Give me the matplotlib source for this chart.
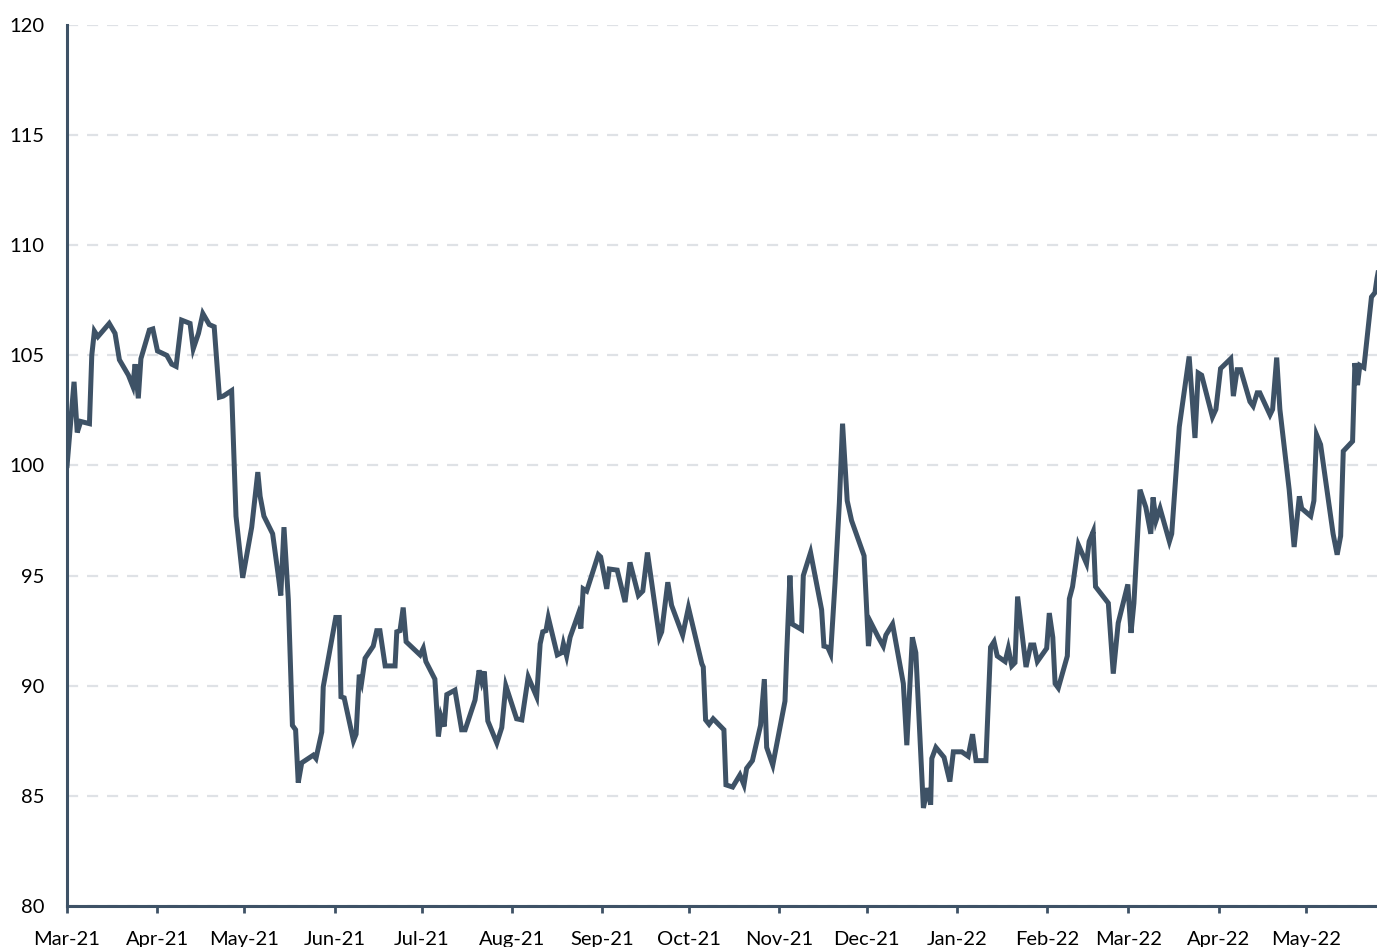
import pandas as pd
import matplotlib.pyplot as plt
import matplotlib.dates as mdates

# days after 2021-03-01 and index level
days = [0, 2.4, 3.5, 4.7, 7.7, 8.5, 9.4, 10.6, 14.5, 16.5, 18.0, 21.1, 22.6, 23.4, 24.5,
        25.4, 28.3, 29.5, 31.1, 34.3, 36.0, 37.5, 39.4, 42.3, 43.4, 45.2, 46.7, 48.9, 50.6,
        52.4, 53.7, 56.6, 58.1, 60.4, 63.5, 65.6, 66.4, 67.7, 70.7, 72.7, 73.5, 74.6, 76.1,
        77.5, 78.6, 79.5, 80.7, 84.7, 85.6, 87.6, 88.1, 92.4, 93.6, 94.2, 95.3, 98.5, 99.4,
        100.5, 101.3, 102.5, 105.3, 106.5, 107.6, 109.4, 112.8, 113.4, 114.5, 115.6, 116.6,
        121.4, 122.5, 123.4, 126.5, 127.7, 128.6, 129.7, 130.6, 133.4, 135.7, 136.9, 140.3,
        141.7, 142.6, 143.5, 144.7, 147.8, 149.5, 150.9, 154.6, 156.4, 158.6, 161.5, 162.7,
        163.6, 164.7, 165.5, 168.6, 170.1, 170.7, 171.8, 173.0, 175.8, 176.7, 177.5, 178.7,
        182.7, 183.5, 185.6, 186.5, 189.2, 191.9, 193.6, 196.5, 198.0, 199.6, 203.7, 204.5,
        206.6, 207.9, 211.7, 213.7, 218.3, 218.8, 219.6, 220.8, 222.2, 225.9, 226.6, 228.9,
        231.4, 232.8, 233.7, 235.7, 238.5, 239.8, 240.6, 242.7, 246.9, 247.5, 248.6, 249.4,
        252.6, 253.2, 255.7, 259.5, 260.3, 261.6, 262.6, 264.1, 265.6, 266.7, 268.3, 269.8,
        274.1, 275.6, 276.5, 279.0, 280.7, 281.6, 283.9, 287.6, 288.8, 290.7, 291.9, 294.5,
        295.9, 297.0, 297.4, 298.8, 301.6, 303.6, 304.8, 307.7, 309.9, 311.4, 312.6, 316.0,
        317.6, 318.8, 319.9, 322.6, 323.7, 324.9, 326.0, 326.9, 329.8, 331.4, 332.5, 333.7,
        336.9, 337.8, 339.0, 339.8, 340.9, 344.0, 344.7, 345.8, 347.8, 350.6, 351.5, 352.9,
        353.7, 358.1, 359.8, 361.5, 364.8, 365.9, 366.9, 369.0, 371.0, 372.7, 373.5, 374.5,
        375.9, 379.1, 379.9, 382.5, 385.9, 387.9, 389.0, 390.2, 393.9, 395.1, 396.7, 400.2,
        401.1, 402.4, 403.6, 406.8, 407.9, 409.3, 410.2, 413.7, 414.6, 416.0, 417.1, 420.3,
        422.0, 423.8, 424.6, 427.7, 428.8, 429.7, 431.1, 435.4, 436.8, 438.0, 438.9, 442.1,
        442.9, 443.8, 444.6, 446.0, 448.6, 449.8, 450.5, 451.5]
values = [100.0, 103.8, 101.5, 102.0, 101.9, 105.0, 106.1, 105.85, 106.45, 106.0, 104.8,
          104.1, 103.6, 104.6, 103.05, 104.85, 106.15, 106.2, 105.2, 105.0, 104.6, 104.5,
          106.6, 106.45, 105.3, 106.0, 106.9, 106.4, 106.3, 103.1, 103.15, 103.4, 97.7,
          94.9, 97.2, 99.7, 98.6, 97.7, 96.9, 94.95, 94.1, 97.2, 93.9, 88.2, 88.0, 85.6,
          86.5, 86.85, 86.7, 87.9, 89.95, 93.1, 93.1, 89.5, 89.45, 87.5, 87.8, 90.5, 90.15,
          91.25, 91.8, 92.5, 92.5, 90.9, 90.9, 92.45, 92.5, 93.55, 92.0, 91.4, 91.7, 91.1,
          90.3, 87.7, 88.6, 88.15, 89.6, 89.8, 88.0, 88.0, 89.35, 90.7, 90.2, 90.65, 88.4,
          87.4, 88.1, 90.0, 88.5, 88.45, 90.4, 89.5, 91.9, 92.45, 92.5, 93.1, 91.4, 91.5,
          91.9, 91.35, 92.2, 93.25, 92.6, 94.4, 94.3, 95.95, 95.85, 94.4, 95.3, 95.25, 93.8,
          95.6, 94.1, 94.3, 96.05, 92.2, 92.45, 94.7, 93.65, 92.3, 93.55, 91.0, 90.85, 88.45,
          88.25, 88.5, 88.0, 85.5, 85.4, 85.95, 85.5, 86.25, 86.6, 88.2, 90.3, 87.2, 86.4,
          89.3, 91.5, 95.0, 92.8, 92.55, 95.0, 96.05, 93.45, 91.8, 91.75, 91.45, 94.65, 98.3,
          101.9, 98.4, 97.5, 95.9, 91.8, 92.85, 92.2, 91.8, 92.3, 92.8, 90.1, 87.3, 92.2,
          91.5, 84.45, 85.35, 84.6, 86.7, 87.2, 86.75, 85.65, 87.0, 87.0, 86.8, 87.8, 86.6,
          86.6, 91.75, 92.0, 91.35, 91.1, 91.7, 90.9, 91.05, 94.05, 90.85, 91.85, 91.85,
          91.1, 91.7, 93.3, 92.2, 90.1, 89.9, 91.35, 93.95, 94.5, 96.4, 95.55, 96.55, 97.0,
          94.5, 93.75, 90.55, 92.85, 94.6, 92.4, 93.75, 98.9, 98.1, 96.9, 98.55, 97.5, 98.05,
          96.55, 96.9, 101.75, 104.95, 101.25, 104.2, 104.1, 102.2, 102.55, 104.4, 104.85,
          103.15, 104.35, 104.35, 102.9, 102.7, 103.3, 103.3, 102.3, 102.55, 104.9, 102.55,
          98.9, 96.3, 98.6, 98.05, 97.7, 98.4, 101.4, 100.95, 96.9, 95.95, 96.8, 100.65,
          101.1, 104.65, 103.65, 104.55, 104.45, 107.65, 107.85, 108.5, 109.2]

start = pd.Timestamp('2021-03-01')
dates = start + pd.to_timedelta(days, unit='D')

plt.rcParams['font.family'] = ['Lato', 'DejaVu Sans']

fig = plt.figure(figsize=(13.77, 9.47), dpi=100)
ax = fig.add_axes([0.0487, 0.0433, 0.9513, 0.9303])

line_col = '#3e5266'
ax.plot(dates, values, color=line_col, linewidth=3.6, solid_joinstyle='miter')

ax.set_ylim(80, 120)
ax.set_yticks(range(80, 121, 5))
ax.set_xlim(start, start + pd.Timedelta(days=450.5))
ax.xaxis.set_major_locator(mdates.MonthLocator())
ax.xaxis.set_major_formatter(mdates.DateFormatter('%b-%y'))

ax.grid(axis='y', color='#dfe2e6', linestyle=(0, (5, 4)), linewidth=1.6)
ax.set_axisbelow(True)
for s in ['top', 'right']:
    ax.spines[s].set_visible(False)
for s in ['left', 'bottom']:
    ax.spines[s].set_color(line_col)
    ax.spines[s].set_linewidth(2.2)
ax.tick_params(axis='y', length=0, pad=16, labelsize=14.5)
ax.tick_params(axis='x', length=5, width=2, color=line_col, pad=13, labelsize=14.5)

plt.savefig('out.png', dpi=100)
